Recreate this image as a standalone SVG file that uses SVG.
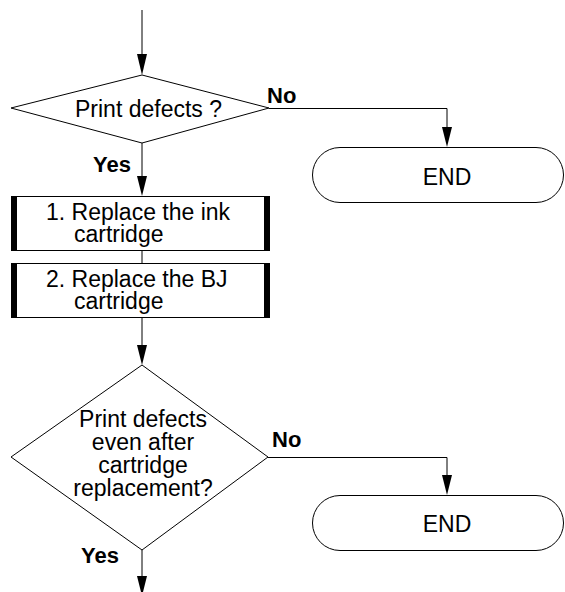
<svg xmlns="http://www.w3.org/2000/svg" width="565" height="592" viewBox="0 0 565 592">
<style>
.t{font-family:"Liberation Sans",Arial,sans-serif;font-size:23px;fill:#000}
.b{font-family:"Liberation Sans",Arial,sans-serif;font-size:22px;font-weight:bold;fill:#000}
.s{fill:#fff;stroke:#000;stroke-width:1}
.c{fill:none;stroke:#000;stroke-width:1}
.h{fill:#000;stroke:none}
</style>
<rect width="565" height="592" fill="#fff"/>
<g id="connectors">
<line class="c" x1="142" y1="10" x2="142" y2="60"/>
<polygon class="h" points="137,54 147,54 142,75"/>
<line class="c" x1="142" y1="143" x2="142" y2="182"/>
<polygon class="h" points="137,176 147,176 142,196"/>
<polyline class="c" points="269,108.5 447,108.5 447,132"/>
<polygon class="h" points="442,127 452,127 447,147"/>
<line class="c" x1="142" y1="251" x2="142" y2="263"/>
<line class="c" x1="142" y1="318" x2="142" y2="350"/>
<polygon class="h" points="137,345 147,345 142,365"/>
<polyline class="c" points="268,457.5 447,457.5 447,480"/>
<polygon class="h" points="442,475 452,475 447,495"/>
<line class="c" x1="142" y1="550" x2="142" y2="585"/>
<polygon class="h" points="137,576 147,576 142,596"/>
<text class="b" x="267" y="103">No</text>
<text class="b" x="93" y="172">Yes</text>
<text class="b" x="272" y="447">No</text>
<text class="b" x="81" y="563">Yes</text>
</g>
<g id="decision1">
<polygon class="s" points="142,75 269,108 142,143 11,108"/>
<text class="t" x="75" y="117">Print defects ?</text>
</g>
<g id="end1">
<rect class="s" x="312.5" y="147.5" width="251" height="55" rx="27.5" ry="27.5"/>
<text class="t" x="447" y="185" text-anchor="middle">END</text>
</g>
<g id="step1">
<rect class="s" x="11.5" y="196.5" width="258" height="54"/>
<rect class="h" x="11" y="196" width="6" height="55"/>
<rect class="h" x="264" y="196" width="6" height="55"/>
<text class="t" x="46" y="220">1. Replace the ink</text>
<text class="t" x="74" y="242">cartridge</text>
</g>
<g id="step2">
<rect class="s" x="11.5" y="263.5" width="258" height="54"/>
<rect class="h" x="11" y="263" width="6" height="55"/>
<rect class="h" x="264" y="263" width="6" height="55"/>
<text class="t" x="46" y="287">2. Replace the BJ</text>
<text class="t" x="74" y="309">cartridge</text>
</g>
<g id="decision2">
<polygon class="s" points="142,365 268,457 142,550 11,457"/>
<text class="t" text-anchor="middle" x="143" y="427">Print defects</text>
<text class="t" text-anchor="middle" x="143" y="450">even after</text>
<text class="t" text-anchor="middle" x="143" y="473">cartridge</text>
<text class="t" text-anchor="middle" x="143" y="496">replacement?</text>
</g>
<g id="end2">
<rect class="s" x="312.5" y="495.5" width="251" height="55" rx="27.5" ry="27.5"/>
<text class="t" x="447" y="532" text-anchor="middle">END</text>
</g>
</svg>
